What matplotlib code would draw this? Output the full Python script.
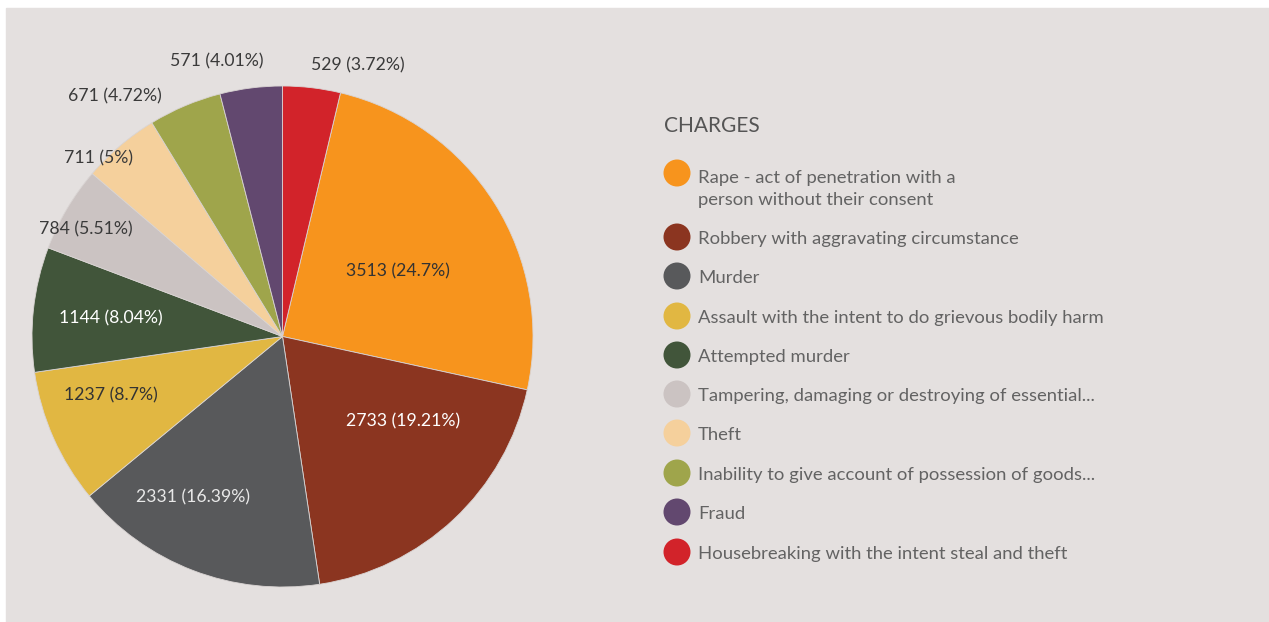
import matplotlib
matplotlib.use("Agg")
import matplotlib.pyplot as plt
from matplotlib.patches import Rectangle

# ── Data ──────────────────────────────────────────────────────────────────────
charges = [
    "Rape - act of penetration with a\nperson without their consent",
    "Robbery with aggravating circumstance",
    "Murder",
    "Assault with the intent to do grievous bodily harm",
    "Attempted murder",
    "Tampering, damaging or destroying of essential...",
    "Theft",
    "Inability to give account of possession of goods...",
    "Fraud",
    "Housebreaking with the intent steal and theft",
]
counts = [3513, 2733, 2331, 1237, 1144, 784, 711, 671, 571, 529]
pct_labels = ["24.7%", "19.21%", "16.39%", "8.7%", "8.04%",
              "5.51%", "5%", "4.72%", "4.01%", "3.72%"]

colors = ["#f7941d", "#8b3520", "#58595b", "#e1b742", "#41553a",
          "#cbc3c2", "#f5d09c", "#9fa54b", "#62486f", "#d2232a"]
label_colors = ["#333333", "#ffffff", "#e8e8e8", "#333333", "#ffffff",
                "#3a3a3a", "#3a3a3a", "#3a3a3a", "#3a3a3a", "#3a3a3a"]
# label centres in pixels (x, y from top)
label_pos = [(398, 271), (403, 421), (193, 497), (111, 395), (111, 318),
             (86, 229), (99, 158), (115, 96), (217, 61), (358, 65)]

BG = "#e4e0df"
W, H = 1269, 622
plt.rcParams["font.family"] = ["Lato", "DejaVu Sans"]

fig = plt.figure(figsize=(W / 100, H / 100), dpi=100, facecolor="white")
fig.patches.append(Rectangle((6 / W, 0), 1 - 6 / W, (H - 8) / H,
                             transform=fig.transFigure, color=BG, zorder=-10))

# ── Pie ───────────────────────────────────────────────────────────────────────
# last slice (Housebreaking) sits right after 12 o'clock, the rest follow clockwise
start = 90 - counts[-1] / sum(counts) * 360
cx, cy, R = 282.5, 336.5, 250.5
ax = fig.add_axes([(cx - R) / W, (H - cy - R) / H, 2 * R / W, 2 * R / H])
ax.pie(counts, colors=colors, startangle=start, counterclock=False, radius=1,
       wedgeprops=dict(edgecolor="#d9d4d3", linewidth=0.6))
ax.set_xlim(-1, 1)
ax.set_ylim(-1, 1)
ax.set_aspect("equal")
ax.axis("off")

# ── Overlay in pixel coordinates ──────────────────────────────────────────────
ov = fig.add_axes([0, 0, 1, 1])
ov.set_xlim(0, W)
ov.set_ylim(H, 0)
ov.axis("off")
ov.patch.set_alpha(0)

for n, p, (px, py), c in zip(counts, pct_labels, label_pos, label_colors):
    ov.text(px, py, f"{n} ({p})", ha="center", va="center", fontsize=12.7, color=c)

# legend
ov.text(664, 126, "CHARGES", ha="left", va="center", fontsize=15, color="#555555")
row_y = [173, 237, 276, 316, 355, 394, 433, 473, 512, 552]
for name, col, y in zip(charges, colors, row_y):
    ov.scatter([677], [y], s=378, color=col, edgecolors="none")
    two = "\n" in name
    ov.text(698, y - 3 if two else y + 2, name, ha="left",
            va="top" if two else "center",
            fontsize=13.3, color="#636363", linespacing=1.45)

fig.savefig("out.png", dpi=100, facecolor="white")
